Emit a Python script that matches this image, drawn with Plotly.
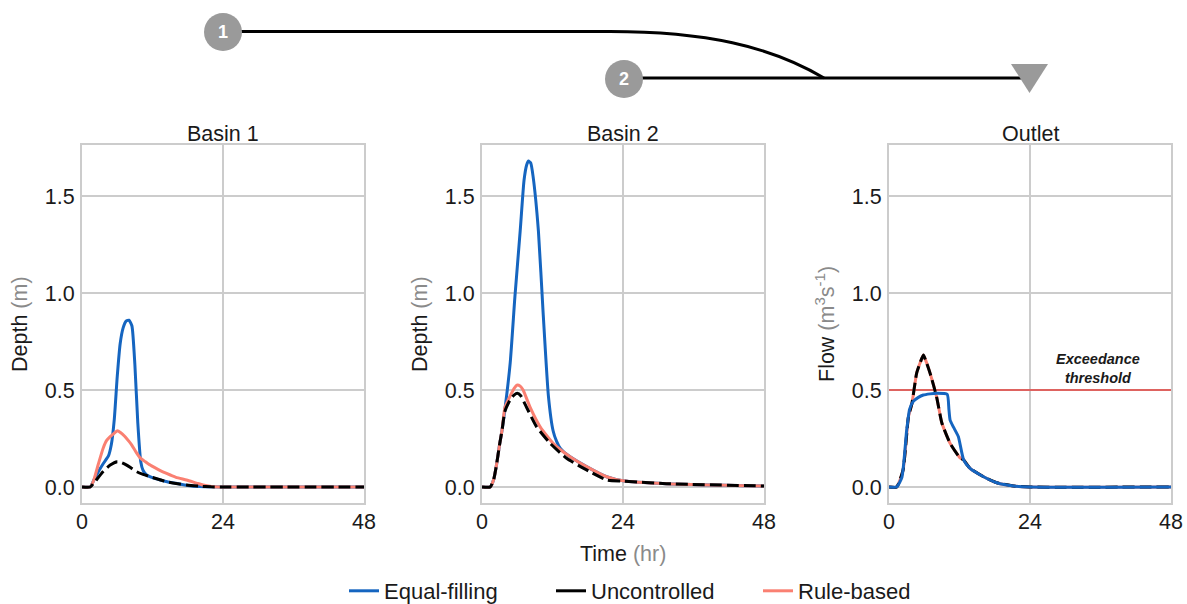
import plotly.graph_objects as go

# ---------------- data ----------------
# Basin 1 depth (m)
b1_equal_t = [0, 1.4, 2, 3, 3.6, 4.5, 5, 5.5, 6, 6.5, 7, 7.5, 8, 8.5, 9, 9.5, 10, 10.4, 11, 12, 13.3, 14.5, 16, 18, 20, 24, 48]
b1_equal = [0, 0, 0.035, 0.09, 0.12, 0.16, 0.22, 0.35, 0.57, 0.74, 0.82, 0.855, 0.86, 0.83, 0.63, 0.33, 0.13, 0.085, 0.062, 0.048, 0.036, 0.027, 0.019, 0.008, 0.002, 0, 0]
b1_rule_t = [0, 1.4, 2, 2.8, 3.6, 4.2, 4.8, 5.4, 6, 6.6, 7.3, 8, 8.5, 9.2, 9.9, 10.8, 11.6, 13, 14.4, 16, 17.8, 19.5, 20.6, 22, 24, 48]
b1_rule = [0, 0, 0.035, 0.12, 0.2, 0.24, 0.26, 0.275, 0.29, 0.28, 0.26, 0.235, 0.215, 0.18, 0.15, 0.13, 0.113, 0.09, 0.07, 0.05, 0.036, 0.02, 0.01, 0.003, 0, 0]
b1_unc_t = [0, 1.4, 2, 2.8, 3.6, 4.8, 6, 6.8, 7.6, 8.5, 9.3, 10.4, 11.6, 13, 14.4, 16, 17.8, 20, 22, 24, 48]
b1_unc = [0, 0, 0.02, 0.05, 0.08, 0.113, 0.13, 0.125, 0.113, 0.095, 0.079, 0.065, 0.053, 0.04, 0.027, 0.018, 0.01, 0.004, 0.001, 0, 0]

# Basin 2 depth (m)
b2_equal_t = [0, 1.4, 2, 2.5, 3, 3.4, 3.9, 4.8, 5.6, 6.5, 7.15, 7.6, 7.9, 8.3, 8.7, 9.6, 10.4, 11.3, 12.1, 12.7, 13.3, 14, 15, 17.8, 21.2, 24, 31.4, 48]
b2_equal = [0, 0, 0.04, 0.12, 0.22, 0.29, 0.40, 0.64, 0.98, 1.32, 1.58, 1.66, 1.68, 1.67, 1.6, 1.32, 0.9, 0.47, 0.29, 0.235, 0.2, 0.178, 0.156, 0.105, 0.053, 0.032, 0.017, 0.005]
b2_rule_t = [0, 1.4, 2, 2.5, 3, 3.4, 3.9, 4.8, 5.5, 6, 6.5, 7, 8.2, 9.9, 12.1, 15, 17.8, 21.2, 24, 31.4, 48]
b2_rule = [0, 0, 0.04, 0.12, 0.22, 0.29, 0.41, 0.47, 0.51, 0.526, 0.52, 0.5, 0.41, 0.31, 0.225, 0.156, 0.105, 0.053, 0.032, 0.017, 0.005]
b2_unc_t = [0, 1.4, 2, 2.5, 3, 3.4, 3.9, 4.8, 5.5, 6, 6.6, 7.6, 9.3, 11.6, 14.4, 17.8, 21.2, 24, 31.4, 48]
b2_unc = [0, 0, 0.04, 0.12, 0.22, 0.29, 0.39, 0.45, 0.475, 0.483, 0.47, 0.41, 0.31, 0.225, 0.148, 0.088, 0.036, 0.03, 0.017, 0.005]

# Outlet flow (m3/s)
out_equal_t = [0, 1.3, 2.2, 3.0, 3.5, 4.1, 5, 5.85, 7, 8.1, 9.9, 10.2, 10.4, 10.95, 11.8, 12.7, 13.8, 16.1, 18.35, 21.2, 24, 48]
out_equal = [0, 0, 0.05, 0.29, 0.40, 0.44, 0.462, 0.474, 0.48, 0.483, 0.478, 0.40, 0.345, 0.31, 0.26, 0.14, 0.096, 0.053, 0.022, 0.005, 0, 0]
out_rule_t = [0, 1.3, 2.4, 3.3, 3.9, 4.7, 5.3, 5.85, 6.4, 7.0, 8.1, 9.0, 10.4, 12.1, 12.7, 13.8, 16.1, 18.35, 21.2, 24, 48]
out_rule = [0, 0, 0.088, 0.36, 0.43, 0.586, 0.64, 0.68, 0.64, 0.586, 0.465, 0.33, 0.225, 0.15, 0.14, 0.096, 0.053, 0.022, 0.005, 0, 0]
out_unc_t = [0, 1.3, 2.4, 3.3, 3.9, 4.7, 5.3, 5.85, 6.4, 7.0, 8.1, 9.0, 10.4, 12.1, 12.7, 13.8, 16.1, 18.35, 21.2, 24, 48]
out_unc = [0, 0, 0.088, 0.36, 0.43, 0.586, 0.64, 0.68, 0.64, 0.586, 0.465, 0.33, 0.225, 0.15, 0.14, 0.096, 0.053, 0.022, 0.005, 0, 0]

threshold_t = [0, 48]
threshold = [0.5, 0.5]

panel_titles = ["Basin 1", "Basin 2", "Outlet"]
series_names = ["Equal-filling", "Uncontrolled", "Rule-based"]
x_ticks = [0, 24, 48]
y_ticks = [0, 0.5, 1.0, 1.5]
y_ticktext = ["0.0", "0.5", "1.0", "1.5"]

# ---------------- styling ----------------
W, H = 1187, 604
FONT = "Liberation Sans, Arial, Helvetica, sans-serif"
FS = 21.5
BLUE = "#1565C0"
SALMON = "#FA8072"
BLACK = "#000000"
GRID = "#cccccc"
TXT = "#1a1a1a"
GRAYTXT = "#8a8a8a"


def fx(p):
    return p / W


def fy(p):
    return 1 - p / H


fig = go.Figure()

styles = {
    "Equal-filling": dict(color=BLUE, width=3),
    "Uncontrolled": dict(color=BLACK, width=3, dash="12px,5px"),
    "Rule-based": dict(color=SALMON, width=3),
}

panels = [
    ("x", "y", [("Equal-filling", b1_equal_t, b1_equal), ("Rule-based", b1_rule_t, b1_rule), ("Uncontrolled", b1_unc_t, b1_unc)]),
    ("x2", "y2", [("Equal-filling", b2_equal_t, b2_equal), ("Rule-based", b2_rule_t, b2_rule), ("Uncontrolled", b2_unc_t, b2_unc)]),
    ("x3", "y3", [("Rule-based", out_rule_t, out_rule), ("Uncontrolled", out_unc_t, out_unc), ("Equal-filling", out_equal_t, out_equal)]),
]

# threshold line in outlet panel
fig.add_trace(go.Scatter(x=threshold_t, y=threshold, mode="lines", xaxis="x3", yaxis="y3",
                         line=dict(color="#e5403c", width=1.6), showlegend=False, hoverinfo="skip"))

for xa, ya, series in panels:
    for name, t, v in series:
        fig.add_trace(go.Scatter(x=t, y=v, mode="lines", name=name, xaxis=xa, yaxis=ya,
                                 line=dict(shape="spline", smoothing=0.5, **styles[name]),
                                 showlegend=False))

# legend entries (solid samples as in the reference)
for rank, name in enumerate(series_names):
    st = dict(styles[name])
    st.pop("dash", None)
    fig.add_trace(go.Scatter(x=[None], y=[None], mode="lines", name=name, line=st,
                             showlegend=True, legendrank=rank + 1, xaxis="x", yaxis="y"))

# ---------------- axes ----------------
x_doms = [(82, 364), (482, 764), (889, 1171)]
y_dom = [fy(503), fy(145)]
yr = [-16 / 194, (487 - 145) / 194]

layout_axes = {}
for i, (a, b) in enumerate(x_doms):
    sfx = "" if i == 0 else str(i + 1)
    layout_axes["xaxis" + sfx] = dict(
        domain=[fx(a), fx(b)], range=[0, 48], anchor="y" + sfx,
        tickvals=x_ticks, showgrid=True, gridcolor=GRID, gridwidth=1.5,
        showline=True, linecolor=GRID, linewidth=2, mirror=True, zeroline=False,
        ticks="", ticklabelstandoff=-2, tickfont=dict(size=FS, color=TXT, family=FONT),
        automargin=False, fixedrange=True)
    layout_axes["yaxis" + sfx] = dict(
        domain=y_dom, range=yr, anchor="x" + sfx,
        tickvals=y_ticks, ticktext=y_ticktext, showgrid=True, gridcolor=GRID, gridwidth=1.5,
        showline=True, linecolor=GRID, linewidth=2, mirror=True, zeroline=False,
        ticks="", ticklabelstandoff=1, tickfont=dict(size=FS, color=TXT, family=FONT),
        automargin=False, fixedrange=True)

annotations = []
for (a, b), title in zip(x_doms, panel_titles):
    annotations.append(dict(text=title, x=fx((a + b) / 2), y=fy(148), xref="paper", yref="paper",
                            xanchor="center", yanchor="bottom", showarrow=False,
                            font=dict(size=FS, color=TXT, family=FONT)))

depth_lbl = "Depth <span style='color:%s'>(m)</span>" % GRAYTXT
flow_lbl = "Flow <span style='color:%s'>(m<sup>3</sup>s<sup>-1</sup>)</span>" % GRAYTXT
for xc, lbl in [(20, depth_lbl), (420, depth_lbl), (825, flow_lbl)]:
    annotations.append(dict(text=lbl, x=fx(xc), y=fy(324), xref="paper", yref="paper",
                            xanchor="center", yanchor="middle", textangle=-90, showarrow=False,
                            font=dict(size=FS, color=TXT, family=FONT)))

annotations.append(dict(text="Time <span style='color:%s'>(hr)</span>" % GRAYTXT,
                        x=fx(623), y=fy(554), xref="paper", yref="paper",
                        xanchor="center", yanchor="middle", showarrow=False,
                        font=dict(size=FS, color=TXT, family=FONT)))

annotations.append(dict(text="<b><i>Exceedance<br>threshold</i></b>", x=35.6, y=threshold[0],
                        xref="x3", yref="y3", xanchor="center", yanchor="bottom", yshift=2,
                        showarrow=False, align="center",
                        font=dict(size=14.5, color=TXT, family=FONT)))

# ---------------- schematic at the top ----------------
NODE_GRAY = "#9a9a9a"
shapes = []
shapes.append(dict(type="line", xref="paper", yref="paper", x0=fx(640), y0=fy(78), x1=fx(1026), y1=fy(78),
                   line=dict(color=BLACK, width=3)))
path = "M %f,%f L %f,%f C %f,%f %f,%f %f,%f" % (
    fx(238), fy(31.5), fx(610), fy(31.5),
    fx(705), fy(31.5), fx(770), fy(46), fx(824), fy(78))
shapes.append(dict(type="path", xref="paper", yref="paper", path=path, line=dict(color=BLACK, width=3)))
for cx, cy in [(223, 32), (624, 79)]:
    r = 19
    shapes.append(dict(type="circle", xref="paper", yref="paper", x0=fx(cx - r), x1=fx(cx + r),
                       y0=fy(cy + r), y1=fy(cy - r), fillcolor=NODE_GRAY, line=dict(width=0)))
tri = "M %f,%f L %f,%f L %f,%f Z" % (fx(1011), fy(64), fx(1048), fy(64), fx(1029.5), fy(93))
shapes.append(dict(type="path", xref="paper", yref="paper", path=tri, fillcolor=NODE_GRAY, line=dict(width=0)))

for num, cx, cy in [("1", 223, 32), ("2", 624, 79)]:
    annotations.append(dict(text="<b>%s</b>" % num, x=fx(cx), y=fy(cy), xref="paper", yref="paper",
                            xanchor="center", yanchor="middle", showarrow=False,
                            font=dict(size=18, color="white", family=FONT)))

fig.update_layout(
    width=W, height=H, margin=dict(l=0, r=0, t=0, b=0, autoexpand=False),
    paper_bgcolor="white", plot_bgcolor="white",
    font=dict(family=FONT, color=TXT),
    showlegend=True,
    legend=dict(orientation="h", x=fx(344), xanchor="left", y=fy(591), yanchor="middle",
                font=dict(size=22, color=TXT, family=FONT), bgcolor="rgba(0,0,0,0)",
                entrywidth=162, traceorder="normal"),
    annotations=annotations, shapes=shapes,
    hovermode=False,
    **layout_axes,
)

# the page body has a default 8px margin; remove it so the figure fills the window exactly
fig.write_html("out.html", config={"displayModeBar": False, "staticPlot": False},
               post_script="document.body.style.margin='0px';")
